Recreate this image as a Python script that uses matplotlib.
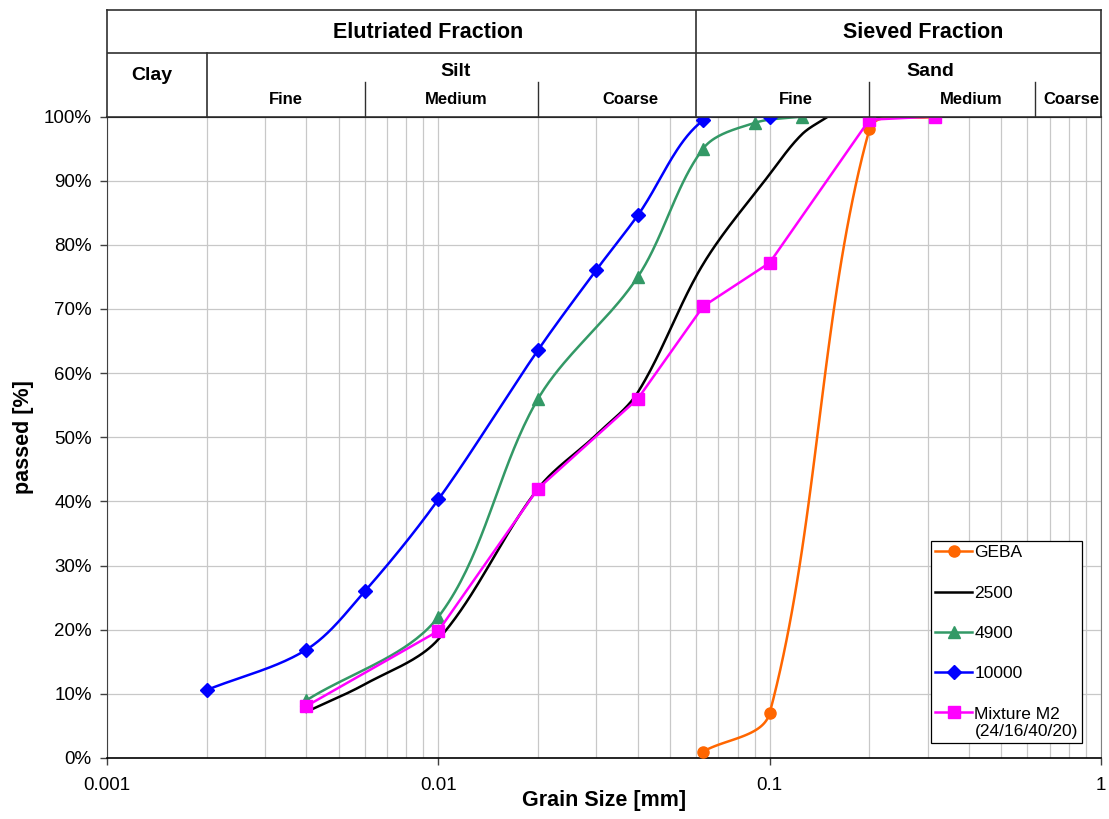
import numpy as np
import matplotlib
matplotlib.use("Agg")
import matplotlib.pyplot as plt
from matplotlib.lines import Line2D
from matplotlib.legend_handler import HandlerLine2D
from matplotlib.ticker import PercentFormatter, LogLocator, FixedLocator, FixedFormatter, NullFormatter

plt.rcParams["font.family"] = ["Liberation Sans", "DejaVu Sans"]

# ------------------------------------------------------------
# Grain size distributions: grain size [mm] vs. passing [%]
# ------------------------------------------------------------

geba_d = [0.063, 0.1, 0.2, 0.315]
geba_p = [1.0, 7.0, 98.0, 100.0]

s2500_d = [0.004, 0.006, 0.01, 0.02, 0.03, 0.04, 0.063, 0.1, 0.125, 0.15]
s2500_p = [7.2, 11.5, 18.5, 42.0, 50.4, 57.0, 77.0, 91.0, 97.2, 100.0]

s4900_d = [0.004, 0.01, 0.02, 0.04, 0.063, 0.09, 0.125]
s4900_p = [9.0, 22.0, 56.0, 75.0, 95.0, 99.0, 100.0]

s10000_d = [0.002, 0.004, 0.006, 0.01, 0.02, 0.03, 0.04, 0.063, 0.1]
s10000_p = [10.6, 16.9, 26.0, 40.3, 63.6, 76.1, 84.6, 99.4, 100.0]

mix_d = [0.004, 0.01, 0.02, 0.04, 0.063, 0.1, 0.2, 0.315]
mix_p = [8.1, 19.8, 42.0, 56.0, 70.4, 77.2, 99.5, 100.0]

# Classification header (boundaries in mm)
clay_silt = 0.002
silt_bounds = [0.006, 0.02]
silt_sand = 0.06
sand_bounds = [0.2, 0.63]

x_ticks = [0.001, 0.01, 0.1, 1]
x_tick_labels = ["0.001", "0.01", "0.1", "1"]

# ------------------------------------------------------------
# Layout (figure is 1109 x 819 px)
# ------------------------------------------------------------

FIG_W, FIG_H = 1109, 819
AX_L, AX_R = 107, 1101
AX_T, AX_B = 116.5, 758
HDR_T = 10

fig = plt.figure(figsize=(FIG_W / 100, FIG_H / 100), dpi=100)
ax = fig.add_axes([AX_L / FIG_W, 1 - AX_B / FIG_H,
                   (AX_R - AX_L) / FIG_W, (AX_B - AX_T) / FIG_H])
hax = fig.add_axes([AX_L / FIG_W, 1 - AX_T / FIG_H,
                    (AX_R - AX_L) / FIG_W, (AX_T - HDR_T) / FIG_H])

# screen units per decade / per percent, used for smoothing
SX = (AX_R - AX_L) / 3.0
SY = (AX_B - AX_T) / 100.0


def smooth(d, p, n=40):
    """Bezier smoothing in screen space (log x); control arms are
    scaled by the neighbouring segment lengths to avoid overshoot."""
    u = np.log10(np.asarray(d, float)) * SX
    v = np.asarray(p, float) * SY
    pts = np.column_stack([u, v])
    k = len(pts)
    seglen = np.hypot(*np.diff(pts, axis=0).T)
    out = [pts[:1]]
    for i in range(k - 1):
        p1, p2 = pts[i], pts[i + 1]
        d12 = seglen[i]
        if i > 0:
            tan1 = pts[i + 1] - pts[i - 1]
            c1 = p1 + tan1 * d12 / (seglen[i - 1] + d12) / 3.0
        else:
            c1 = p1 + (p2 - p1) / 3.0
        if i + 2 < k:
            tan2 = pts[i + 2] - pts[i]
            c2 = p2 - tan2 * d12 / (d12 + seglen[i + 1]) / 3.0
        else:
            c2 = p2 - (p2 - p1) / 3.0
        t = np.linspace(0, 1, n)[1:, None]
        seg = ((1 - t) ** 3 * p1 + 3 * (1 - t) ** 2 * t * c1
               + 3 * (1 - t) * t ** 2 * c2 + t ** 3 * p2)
        out.append(seg)
    out = np.vstack(out)
    return 10 ** (out[:, 0] / SX), out[:, 1] / SY


C_GEBA = "#FF6600"
C_2500 = "#000000"
C_4900 = "#339966"
C_10000 = "#0000FF"
C_MIX = "#FF00FF"
LW = 1.8

# GEBA
xs, ys = smooth(geba_d, geba_p)
ax.plot(xs, ys, color=C_GEBA, lw=LW, zorder=3)
ax.plot(geba_d, geba_p, ls="none", marker="o", ms=8, color=C_GEBA, zorder=3)

# 2500
xs, ys = smooth(s2500_d, s2500_p)
ax.plot(xs, ys, color=C_2500, lw=LW, zorder=3)

# 4900
xs, ys = smooth(s4900_d, s4900_p)
ax.plot(xs, ys, color=C_4900, lw=LW, zorder=3)
ax.plot(s4900_d, s4900_p, ls="none", marker="^", ms=8, color=C_4900, zorder=3)

# 10000
xs, ys = smooth(s10000_d, s10000_p)
ax.plot(xs, ys, color=C_10000, lw=LW, zorder=3)
ax.plot(s10000_d, s10000_p, ls="none", marker="D", ms=7, color=C_10000, zorder=3)

# Mixture M2 (straight segments)
ax.plot(mix_d, mix_p, color=C_MIX, lw=LW, marker="s", ms=8, zorder=3)

# ------------------------------------------------------------
# Axes
# ------------------------------------------------------------

ax.set_xscale("log")
ax.set_xlim(0.001, 1)
ax.set_ylim(0, 100)

ax.xaxis.set_major_locator(FixedLocator(x_ticks))
ax.xaxis.set_major_formatter(FixedFormatter(x_tick_labels))
ax.xaxis.set_minor_locator(LogLocator(base=10, subs=np.arange(2, 10)))
ax.xaxis.set_minor_formatter(NullFormatter())
ax.set_yticks(np.arange(0, 101, 10))
ax.yaxis.set_major_formatter(PercentFormatter(xmax=100, decimals=0))

ax.tick_params(which="major", direction="out", length=5, width=1,
               labelsize=13.5, color="#404040")
ax.tick_params(axis="y", pad=6)
ax.tick_params(axis="x", pad=9)
ax.tick_params(which="minor", length=0)

ax.grid(which="both", axis="x", color="#c8c8c8", lw=0.9)
ax.grid(which="major", axis="y", color="#c8c8c8", lw=0.9)
ax.set_axisbelow(True)

ax.spines["bottom"].set_color("black")
ax.spines["bottom"].set_linewidth(1.2)
ax.spines["top"].set_color("black")
ax.spines["top"].set_linewidth(1.5)
ax.spines["left"].set_color("#404040")
ax.spines["right"].set_color("#808080")

ax.set_xlabel("Grain Size [mm]", fontsize=15.5, fontweight="bold", labelpad=-3)
ax.set_ylabel("passed [%]", fontsize=15.5, fontweight="bold", labelpad=7)

# ------------------------------------------------------------
# Legend
# ------------------------------------------------------------


class FirstLineHandler(HandlerLine2D):
    """Align the legend handle with the first line of a two-line label."""

    def create_artists(self, legend, orig_handle, xdescent, ydescent,
                       width, height, fontsize, trans):
        artists = super().create_artists(legend, orig_handle, xdescent, ydescent,
                                         width, height, fontsize, trans)
        for a in artists:
            a.set_ydata(np.asarray(a.get_ydata()) + 0.6 * fontsize)
        return artists


h_geba = Line2D([], [], color=C_GEBA, lw=LW, marker="o", ms=8)
h_2500 = Line2D([], [], color=C_2500, lw=LW)
h_4900 = Line2D([], [], color=C_4900, lw=LW, marker="^", ms=8)
h_10000 = Line2D([], [], color=C_10000, lw=LW, marker="D", ms=7)
h_mix = Line2D([], [], color=C_MIX, lw=LW, marker="s", ms=8)

leg = ax.legend(
    [h_geba, h_2500, h_4900, h_10000, h_mix],
    ["GEBA", "2500", "4900", "10000", "Mixture M2\n(24/16/40/20)"],
    loc="upper left",
    bbox_to_anchor=((931 - AX_L) / (AX_R - AX_L), (AX_B - 541) / (AX_B - AX_T)),
    borderaxespad=0,
    fontsize=12.5,
    labelspacing=1.45,
    handlelength=2.1,
    handletextpad=0.15,
    borderpad=0.25,
    fancybox=False,
    framealpha=1,
    edgecolor="black",
    handler_map={h_mix: FirstLineHandler()},
)
leg.get_frame().set_linewidth(0.9)

# ------------------------------------------------------------
# Classification header
# ------------------------------------------------------------

hax.set_xscale("log")
hax.set_xlim(0.001, 1)
hax.set_ylim(0, 1)
hax.set_xticks([])
hax.set_yticks([])
hax.minorticks_off()
for s in hax.spines.values():
    s.set_color("#303030")
    s.set_linewidth(1.2)

mid = 0.594
sub_top = 0.324
line_kw = dict(color="#303030", lw=1.2)
hax.plot([0.001, 1], [mid, mid], **line_kw)
hax.plot([silt_sand, silt_sand], [0, 1], **line_kw)
hax.plot([clay_silt, clay_silt], [0, mid], **line_kw)
for b in silt_bounds + sand_bounds:
    hax.plot([b, b], [0, sub_top], color="#303030", lw=1.0)

bold = dict(fontweight="bold", ha="center", va="center")
hax.text(0.0093, 0.792, "Elutriated Fraction", fontsize=15.5, **bold)
hax.text(0.29, 0.792, "Sieved Fraction", fontsize=15.5, **bold)
hax.text(0.00137, 0.387, "Clay", fontsize=14, **bold)
hax.text(0.0113, 0.425, "Silt", fontsize=14, **bold)
hax.text(0.306, 0.425, "Sand", fontsize=14, **bold)

hax.text(0.00347, 0.156, "Fine", fontsize=12, **bold)
hax.text(0.0113, 0.156, "Medium", fontsize=12, **bold)
hax.text(0.038, 0.156, "Coarse", fontsize=12, **bold)
hax.text(0.12, 0.156, "Fine", fontsize=12, **bold)
hax.text(0.405, 0.156, "Medium", fontsize=12, **bold)
hax.text(0.817, 0.156, "Coarse", fontsize=12, **bold)

fig.savefig("out.png", dpi=100)
